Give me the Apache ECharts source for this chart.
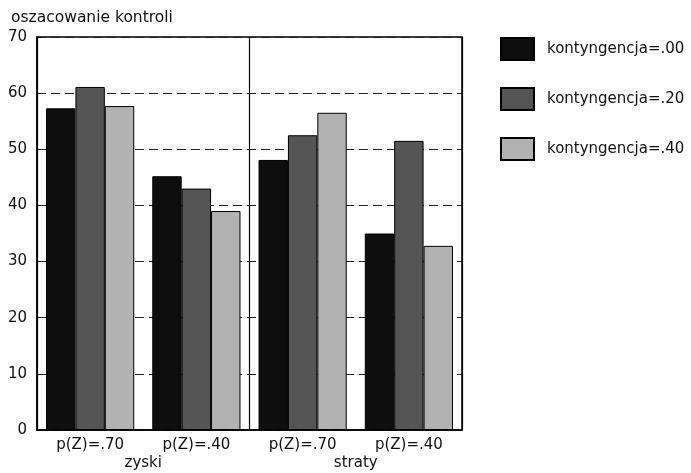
<!DOCTYPE html>
<html><head><meta charset="utf-8">
<script src="https://cdn.jsdelivr.net/npm/echarts@6/dist/echarts.min.js"></script>
<style>html,body{margin:0;padding:0;background:#fff}#c{width:691px;height:473px}</style>
</head><body><div id="c"></div>
<script>
const categories = ['p(Z)=.70', 'p(Z)=.40', 'p(Z)=.70', 'p(Z)=.40'];
const groups = ['zyski', 'straty'];
const seriesNames = ['kontyngencja=.00', 'kontyngencja=.20', 'kontyngencja=.40'];
const k00 = [57.3, 45.2, 48.1, 35.0];
const k20 = [61.1, 43.0, 52.5, 51.5];
const k40 = [57.7, 39.0, 56.5, 32.8];
const yTicks = [0, 10, 20, 30, 40, 50, 60, 70];

const colors = ['#0e0e0e', '#555555', '#b2b2b2'];
const font = 'DejaVu Sans';
const chart = echarts.init(document.getElementById('c'));
const mk = (name, data, i) => ({
  name, type: 'bar', data, barGap: '0%', barCategoryGap: '17%',
  itemStyle: { color: colors[i], borderColor: '#000', borderWidth: 1 }
});
chart.setOption({
  animation: false,
  textStyle: { fontFamily: font },
  title: { text: 'oszacowanie kontroli', left: 6, top: 5,
    textStyle: { fontSize: 15.5, fontWeight: 'normal', color: '#111', fontFamily: font } },
  legend: {
    orient: 'vertical', left: 495, top: 32, itemWidth: 33, itemHeight: 22, itemGap: 26,
    icon: 'rect', data: seriesNames,
    textStyle: { fontSize: 15, color: '#111', fontFamily: font, padding: [0, 0, 0, 8] }
  },
  grid: { left: 37, right: 229, top: 37, bottom: 43, show: true, borderColor: '#000', borderWidth: 1.5 },
  xAxis: [
    { type: 'category', data: categories, axisLine: { lineStyle: { color: '#000', width: 1.5 } },
      axisTick: { show: false }, axisLabel: { fontSize: 15, color: '#111', margin: 8 } },
    { type: 'category', data: groups, position: 'bottom', offset: 0,
      axisLine: { show: false }, axisTick: { show: false },
      axisLabel: { fontSize: 15, color: '#111', margin: 26 },
      splitLine: { show: true, lineStyle: { color: '#000', width: 1.2 } } }
  ],
  yAxis: {
    type: 'value', min: yTicks[0], max: yTicks[yTicks.length - 1], interval: 10,
    axisLine: { show: true, lineStyle: { color: '#000', width: 1.5 } },
    axisTick: { show: true, inside: true, length: 4, lineStyle: { color: '#000' } },
    axisLabel: { fontSize: 15, color: '#111', margin: 10 },
    splitLine: { show: true, lineStyle: { color: '#222', type: [9, 5], width: 1 } }
  },
  series: [mk(seriesNames[0], k00, 0), mk(seriesNames[1], k20, 1), mk(seriesNames[2], k40, 2)]
});
</script></body></html>
